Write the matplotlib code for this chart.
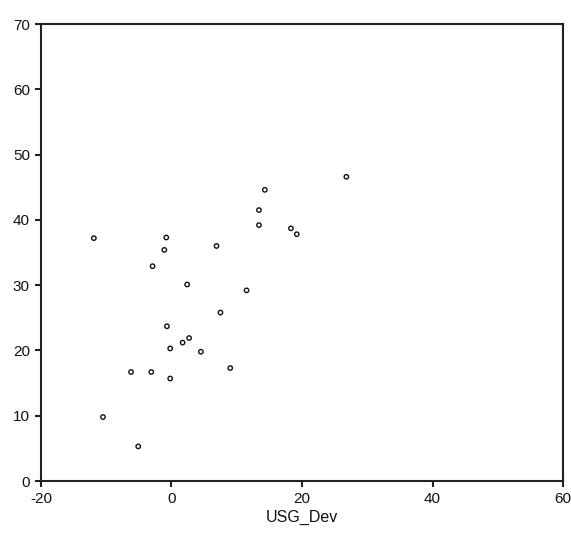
#!/usr/bin/env python3
"""Scatter of USG_Dev against the response value (recreated chart)."""

import matplotlib
matplotlib.use('Agg')
import matplotlib.pyplot as plt

# values
usg_dev = [14.3, 13.4, 13.4, -11.9, -0.8, -1.1, 6.9, -2.9, 2.4, 11.5,
           7.5, -0.7, 2.7, 1.7, -0.2, 4.5, 26.8, 18.3, 19.2, 9.0,
           -6.2, -3.1, -0.2, -10.5, -5.1]
response = [44.6, 41.5, 39.2, 37.2, 37.3, 35.4, 36.0, 32.9, 30.1, 29.2,
            25.8, 23.7, 21.9, 21.2, 20.3, 19.8, 46.6, 38.7, 37.8, 17.3,
            16.7, 16.7, 15.7, 9.8, 5.3]

x_ticks = [-20, 0, 20, 40, 60]
y_ticks = [0, 10, 20, 30, 40, 50, 60, 70]

TEXT_COLOR = "#111111"
AXIS_COLOR = "#222222"

plt.rcParams['font.family'] = ['Liberation Sans', 'DejaVu Sans']
plt.rcParams['axes.unicode_minus'] = False

fig = plt.figure(figsize=(5.71, 5.36), dpi=100, facecolor='white')
ax = fig.add_axes([0.0718, 0.1026, 0.9142, 0.8526])

ax.scatter(usg_dev, response, s=10, marker='o', facecolors='none',
           edgecolors='#111111', linewidths=1.0)

ax.set_xlim(-20, 60)
ax.set_ylim(0, 70)
ax.set_xticks(x_ticks)
ax.set_yticks(y_ticks)
ax.tick_params(direction='out', length=4, width=1.5, color=AXIS_COLOR,
               labelsize=11, labelcolor=TEXT_COLOR, pad=4)
for spine in ax.spines.values():
    spine.set_color(AXIS_COLOR)
    spine.set_linewidth(1.5)

ax.set_xlabel("USG_Dev", fontsize=11.5, color=TEXT_COLOR, labelpad=3)

fig.savefig("out.png", dpi=100, facecolor='white')
plt.close(fig)
